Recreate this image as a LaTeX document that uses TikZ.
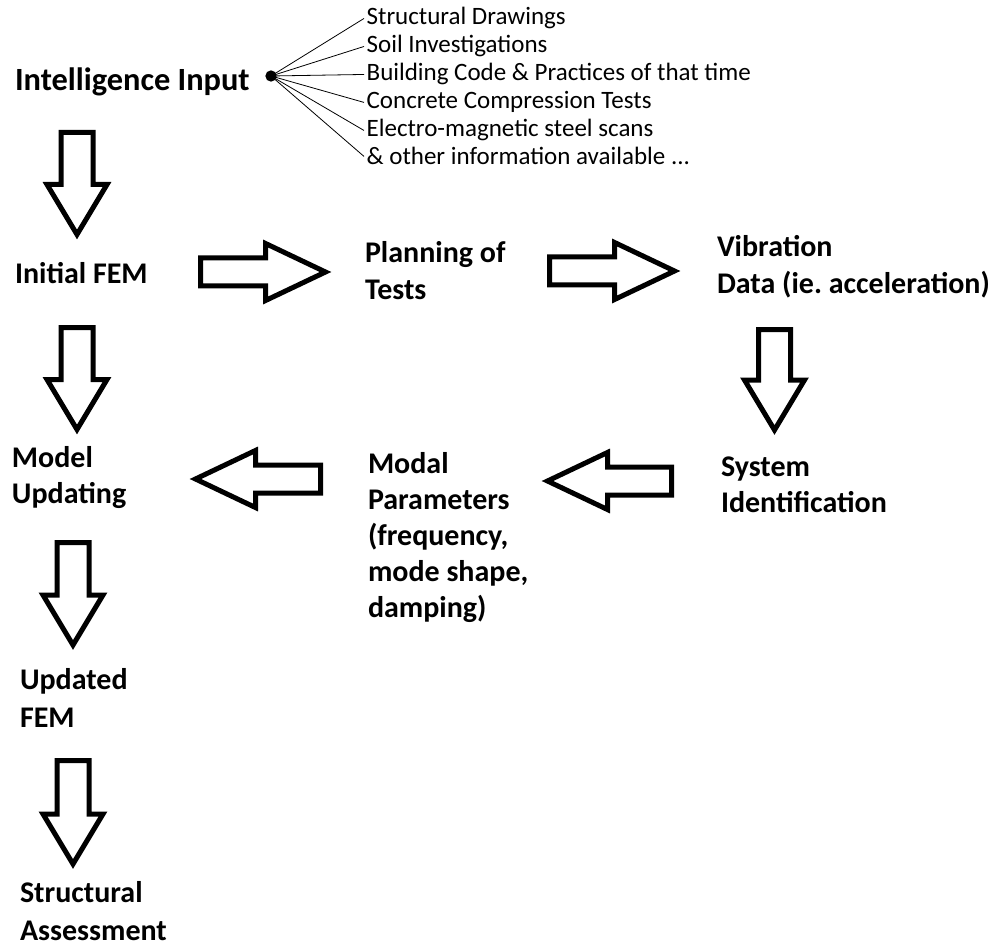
\documentclass[tikz,border=0pt]{standalone}
\usepackage{fontspec}
\setmainfont{Carlito}
\usetikzlibrary{calc}
\tikzset{
  blockarrow/.style n args={3}{draw=black, line width=3.75pt, line join=miter,
    to path={let \p1=(\tikztostart), \p2=(\tikztotarget),
      \n1={veclen(\x2-\x1,\y2-\y1)}, \n2={(\x2-\x1)/\n1}, \n3={(\y2-\y1)/\n1} in
      ({\x1-\n3*#1},{\y1+\n2*#1})
      -- ({\x2-\n2*#3-\n3*#1},{\y2-\n3*#3+\n2*#1})
      -- ({\x2-\n2*#3-\n3*#2},{\y2-\n3*#3+\n2*#2})
      -- (\tikztotarget)
      -- ({\x2-\n2*#3+\n3*#2},{\y2-\n3*#3-\n2*#2})
      -- ({\x2-\n2*#3+\n3*#1},{\y2-\n3*#3-\n2*#1})
      -- ({\x1+\n3*#1},{\y1-\n2*#1}) -- cycle}},
  varrow/.style={blockarrow={12pt}{22.5pt}{37.5pt}},
  harrow/.style={blockarrow={10.5pt}{21.4pt}{45pt}},
  lbl/.style={anchor=base west, inner sep=0pt, outer sep=0pt,
    font=\fontsize{22.5}{27}\selectfont\bfseries\frenchspacing},
  item/.style={anchor=base west, inner sep=0pt, outer sep=2pt,
    font=\fontsize{18.75}{21}\selectfont\frenchspacing},
  spoke/.style={draw=black, line width=0.6pt},
}
\begin{document}
\begin{tikzpicture}[x=0.75pt,y=-0.75pt]
\useasboundingbox (0,0) rectangle (1005,948);

% main labels
\node[lbl, font=\fontsize{24.3}{29}\selectfont\bfseries] (ii) at (15,91) {Intelligence Input};
\node[lbl] (ifem) at (15,283) {Initial FEM};
\node[lbl] (plan) at (365,263) {\vtop{\baselineskip=27.75pt\hbox{Planning of}\hbox{Tests}}};
\node[lbl] (vib) at (717,257) {\vtop{\baselineskip=27.4pt\hbox{Vibration}\hbox{Data (ie. acceleration)}}};
\node[lbl] (model) at (12,467) {\vtop{\baselineskip=27pt\hbox{Model}\hbox{Updating}}};
\node[lbl] (modal) at (368,473) {\vtop{\baselineskip=27pt\hbox{Modal}\hbox{Parameters}\hbox{(frequency,}\hbox{mode shape,}\hbox{damping)}}};
\node[lbl] (sysid) at (721,476) {\vtop{\baselineskip=27pt\hbox{System}\hbox{Identification}}};
\node[lbl] (upd) at (20,689) {\vtop{\baselineskip=28.5pt\hbox{Updated}\hbox{FEM}}};
\node[lbl] (sa) at (20,902) {\vtop{\baselineskip=28.5pt\hbox{Structural}\hbox{Assessment}}};

% input list
\node[circle, fill=black, inner sep=0pt, minimum size=8.5pt] (dot) at (271,76) {};
\node[item] (l1) at (364,25) {Structural Drawings};
\node[item] (l2) at (364,53) {Soil Investigations};
\node[item] (l3) at (364,81) {Building Code \& Practices of that time};
\node[item] (l4) at (364,109) {Concrete Compression Tests};
\node[item] (l5) at (364,137) {Electro-magnetic steel scans};
\node[item] (l6) at (364,165) {\& other information available ...};
\foreach \n in {l1,l2,l3,l4,l5,l6} \draw[spoke] (dot.center) -- (\n.west);

% arrow end points
\coordinate (a1s) at (77,132.5);  \coordinate (a1e) at (77,234.5);
\coordinate (a2s) at (77,327.5);  \coordinate (a2e) at (77,429.5);
\coordinate (a3s) at (73,542.5);  \coordinate (a3e) at (73,645);
\coordinate (a4s) at (73,760.5);  \coordinate (a4e) at (73,864);
\coordinate (a5s) at (774.5,329.5); \coordinate (a5e) at (774.5,430);
\coordinate (h1s) at (200.5,272); \coordinate (h1e) at (325.5,272);
\coordinate (h2s) at (549.5,271); \coordinate (h2e) at (674.5,271);
\coordinate (h3s) at (671.5,481); \coordinate (h3e) at (547.5,481);
\coordinate (h4s) at (320.5,479); \coordinate (h4e) at (195.5,479);

\draw[varrow] (a1s) to (a1e);
\draw[varrow] (a2s) to (a2e);
\draw[varrow] (a3s) to (a3e);
\draw[varrow] (a4s) to (a4e);
\draw[varrow] (a5s) to (a5e);
\draw[harrow] (h1s) to (h1e);
\draw[harrow] (h2s) to (h2e);
\draw[harrow] (h3s) to (h3e);
\draw[harrow] (h4s) to (h4e);
\end{tikzpicture}
\end{document}
